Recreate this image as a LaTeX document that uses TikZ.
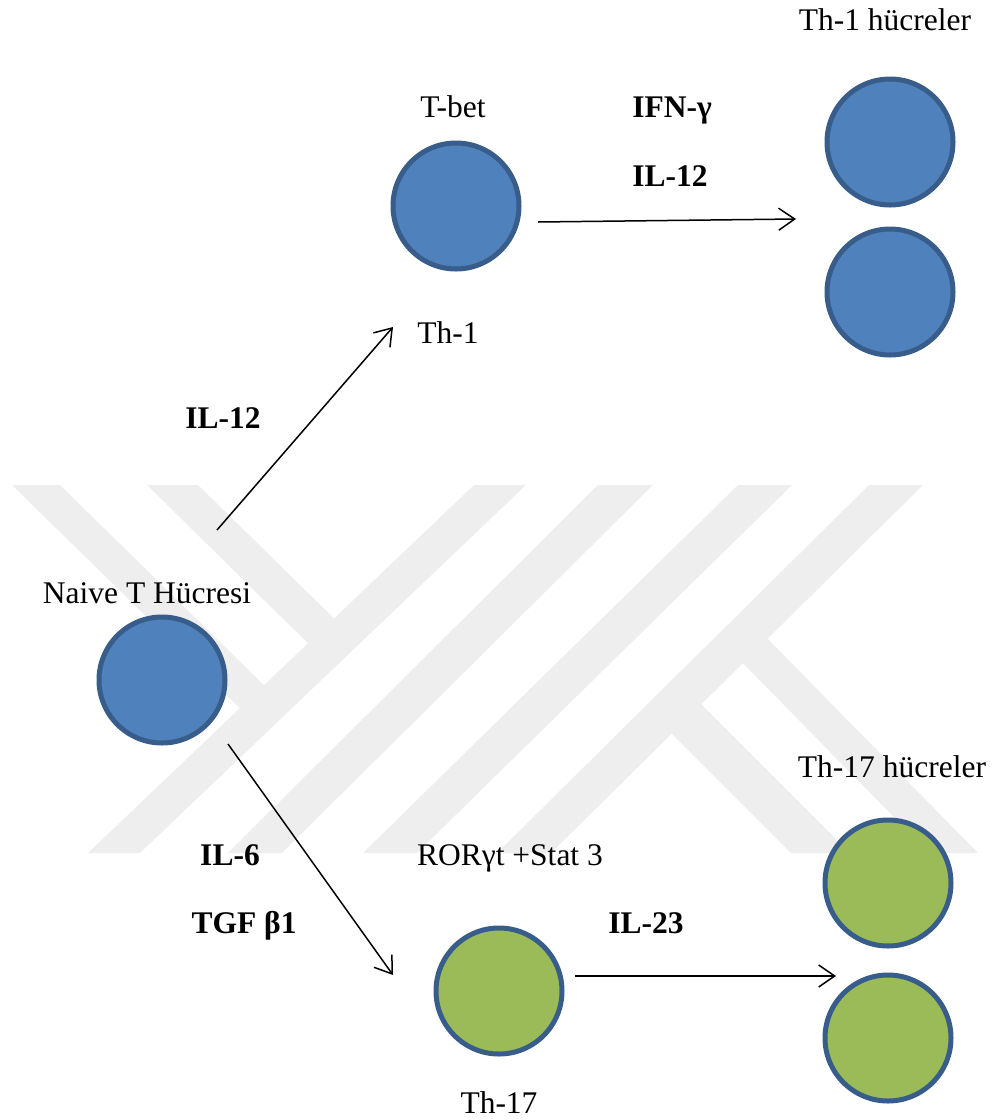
\documentclass[tikz,border=0pt]{standalone}
\usepackage{fontspec}
\setmainfont{Liberation Serif}
\usetikzlibrary{arrows.meta}
\definecolor{wm}{RGB}{238,238,238}
\definecolor{cblue}{HTML}{4F81BD}
\definecolor{cgreen}{HTML}{9BBB59}
\definecolor{cedge}{HTML}{385D8A}
\begin{document}
\begin{tikzpicture}[x=1pt,y=-1pt,
  cell/.style={circle, draw=cedge, line width=5pt, minimum size=126pt, inner sep=0pt},
  bcell/.style={cell, fill=cblue},
  gcell/.style={cell, fill=cgreen},
  lbl/.style={anchor=base, inner sep=0pt, font=\fontsize{31.5}{36}\selectfont},
  blbl/.style={anchor=base, inner sep=0pt, font=\fontsize{31.5}{36}\selectfont\bfseries},
  arr/.style={line width=1.5pt, -{Straight Barb[length=16pt,width=22pt]}}]
\useasboundingbox (0,0) rectangle (992,1120);
% watermark
\begin{scope}
\clip (0,485) rectangle (992,853);
\fill[wm] (474,485) -- (526,485) -- (140,853) -- (88,853) -- cycle;
\fill[wm] (598,485) -- (653,485) -- (282,853) -- (228,853) -- cycle;
\fill[wm] (738,485) -- (792,485) -- (417,853) -- (363,853) -- cycle;
\fill[wm] (869,485) -- (923,485) -- (551,853) -- (497,853) -- cycle;
\fill[wm] (12,485) -- (60,485) -- (279,700) -- (255,723) -- cycle;
\fill[wm] (147,485) -- (198,485) -- (349,633) -- (323,658) -- cycle;
\fill[wm] (757,628) -- (978,853) -- (929,853) -- (733,653) -- cycle;
\fill[wm] (690,693) -- (850,853) -- (791,853) -- (660,722) -- cycle;
\end{scope}
% cells
\node[bcell] (naive) at (162,680) {};
\node[bcell] (th1) at (456,206) {};
\node[bcell] (th1a) at (890,142) {};
\node[bcell] (th1b) at (890,292) {};
\node[gcell] (th17) at (499,991) {};
\node[gcell] (th17a) at (888,883) {};
\node[gcell] (th17b) at (888,1038) {};
% labels
\node[lbl] (t1h) at (885,30) {Th-1 hücreler};
\node[lbl] (tbet) at (453,117) {T-bet};
\node[blbl] (ifn) at (672,117) {IFN-γ};
\node[blbl] (il12a) at (670,186) {IL-12};
\node[lbl] (th1l) at (448,343) {Th-1};
\node[blbl] (il12b) at (223,428) {IL-12};
\node[lbl] (naivel) at (147,603) {Naive T Hücresi};
\node[lbl] (t17h) at (892,777) {Th-17 hücreler};
\node[blbl] (il6) at (230,865) {IL-6};
\node[lbl] (ror) at (510,865) {RORγt +Stat 3};
\node[blbl] (tgf) at (244,933) {TGF β1};
\node[blbl] (il23) at (646,933) {IL-23};
\node[lbl] (th17l) at (499,1113) {Th-17};
% arrows
\coordinate (a1s) at (217,530); \coordinate (a1e) at (393,327);
\coordinate (a2s) at (538,222); \coordinate (a2e) at (796,219);
\coordinate (a3s) at (228,744); \coordinate (a3e) at (393,975);
\coordinate (a4s) at (575,976); \coordinate (a4e) at (836,976);
\draw[arr] (a1s) -- (a1e);
\draw[arr] (a2s) -- (a2e);
\draw[arr] (a3s) -- (a3e);
\draw[arr] (a4s) -- (a4e);
\end{tikzpicture}
\end{document}
